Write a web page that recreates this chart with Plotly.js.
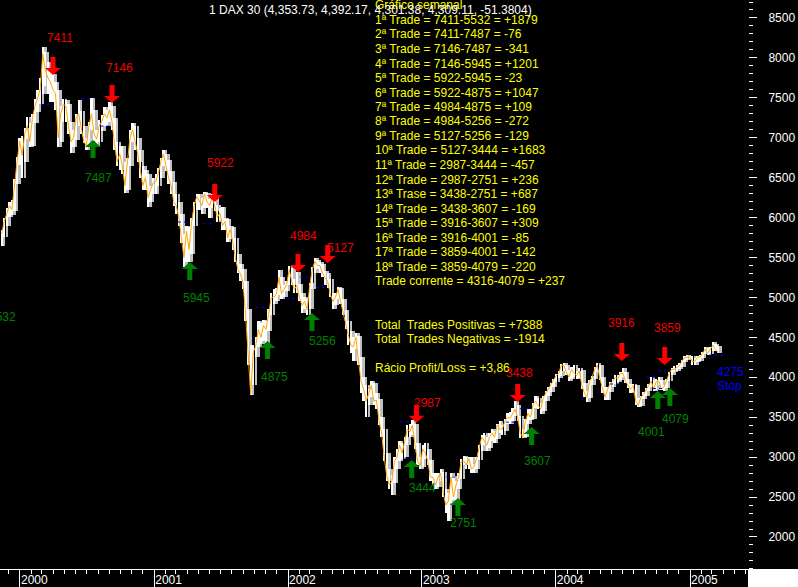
<!DOCTYPE html>
<html><head><meta charset="utf-8">
<script src="https://cdn.plot.ly/plotly-3.0.1.min.js"></script>
<style>html,body{margin:0;padding:0;background:#000;}#chart{width:798px;height:587px;}</style>
</head><body><div id="chart"></div>
<script>
// ---------- DATA ----------
const firstWeek = '1999-11-12';   // weekly bars (Fridays)
const closeVals = [
 5800,5950,6050,6150,6100,6450,6700,6958,
 6780,7050,7150,6950, 7250,7400,7500,7600, 8050,7850,7750,7700,7600, 7550,7000,7300,7414, 7400,7150,6950,7000, 7250,7300,7100,6950,6900, 7150,7300,7050,6980, 7150,7200,7300,7250, 7350,7200,6900,6700,6798, 6650,6400,6700,7000, 7100,6950,6800,6600, 6400,6500,6250,6350,6434,
 6450,6550,6700,6800, 6650,6500,6400,6200, 6150,6000,5750,5500,5830, 5600,5950,6150,6265, 6200,6150,6300,6200, 6150,6250,6150,6000,6058, 5900,5950,5750,5850, 5700,5500,5350,5300,5188, 4800,4300,3790,4308, 4400,4600,4500,4650, 4600,4800,5000,5000,5043, 5250,5050,5100,5160,
 5350,5200,5100,5150, 5000,4900,4950,4850, 5150,5350,5450,5400,5397, 5300,5250,5200,5041, 4950,5000,5100,4950,4818, 4650,4550,4400,4383, 4500,4200,3950,3850, 3700,3800,3900,3700,3713, 3450,3300,3000,2769, 2650,2700,2950,3000, 3150,3050,3200,3350,3320, 3400,3150,2950,2893,
 3100,3050,2950,2750,2748, 2650,2750,2800,2548, 2400,2450,2750,2500, 2650,2750,2950,2950, 2900,2980,2850,2880,2983, 3100,3250,3200,3150, 3250,3300,3250,3400, 3350,3350,3450,3500,3485, 3550,3600,3500,3300, 3250,3450,3550,3500,3656, 3700,3650,3600,3746, 3800,3850,3900,3950,
 4020,4050,4150,4150,4059, 4000,4100,4050,4018, 4080,3900,3800,3750, 3950,4000,4100,4150,3985, 3850,3750,3850,3921, 3950,4000,3980,4050, 4050,3950,3900,3850,3896, 3700,3650,3750,3785, 3850,3900,3950,3850, 3950,3950,3850,3880,3960, 4050,4100,4100,4126, 4150,4200,4250,4250,4256,
 4200,4200,4250,4255,4300,4350,4300,4350,4400,4353,4309
];
const highVals = [
 5850,6000,6120,6200,6220,6480,6760,7000,
 7020,7120,7260,7180, 7300,7480,7600,7750, 8137,8080,7950,7850,7800, 7700,7600,7400,7480, 7470,7420,7200,7100, 7300,7470,7330,7150,7000, 7200,7500,7350,7100, 7220,7280,7380,7350, 7450,7400,7250,6950,6900, 6900,6700,6750,7100, 7185,7150,7000,6850, 6650,6600,6550,6400,6500,
 6550,6620,6750,6850, 6800,6720,6580,6450, 6300,6200,6050,5800,5900, 5880,6000,6200,6300, 6290,6250,6320,6310, 6230,6290,6260,6160,6120, 6130,6000,5980,5900, 5880,5750,5550,5420,5350, 5200,4850,4400,4400, 4500,4700,4680,4720, 4700,4850,5050,5100,5120, 5340,5260,5150,5200,
 5400,5370,5230,5320, 5170,5050,5000,4980, 5180,5380,5500,5467,5440, 5420,5330,5300,5230, 5060,5050,5130,5120,4980, 4840,4700,4580,4500, 4550,4520,4250,4000, 3900,3850,3950,3930,3800, 3730,3500,3350,3050, 2850,2780,3000,3100, 3200,3180,3250,3400,3420, 3465,3420,3180,3000,
 3150,3180,3100,2970,2800, 2800,2800,2850,2820, 2600,2550,2800,2760, 2700,2800,2980,3020, 3000,3000,3000,2920,3000, 3150,3280,3300,3250, 3300,3350,3330,3420, 3450,3400,3480,3550,3560, 3620,3700,3650,3520, 3350,3480,3600,3600,3680, 3760,3740,3680,3770, 3830,3880,3930,3980,
 4040,4080,4170,4180,4160, 4090,4130,4150,4080, 4120,4090,3930,3830, 3970,4020,4130,4180,4160, 4000,3880,3880,3940, 3980,4030,4030,4070, 4115,4070,3980,3920,3920, 3900,3740,3770,3810, 3870,3920,4000,3960, 3980,4000,3960,3900,3980, 4070,4120,4140,4150, 4180,4220,4270,4280,4270,
 4270,4240,4270,4280,4320,4380,4370,4380,4440,4420,4392
];
const lowVals = [
 5640,5760,5900,6010,6030,6080,6420,6660,
 6500,6700,6980,6880, 6900,7180,7320,7420, 7550,7650,7550,7450,7450, 7350,6890,6950,7200, 7200,7050,6810,6880, 6970,7150,7050,6930,6850, 6880,7100,6960,6900, 6950,7080,7150,7150, 7200,7100,6850,6650,6600, 6550,6310,6350,6650, 6950,6850,6700,6500, 6350,6350,6130,6200,6300,
 6300,6400,6500,6650, 6580,6420,6300,6150, 6050,5900,5680,5380,5450, 5450,5550,5900,6100, 6100,6050,6120,6120, 6000,6120,6080,5950,5970, 5850,5850,5700,5730, 5600,5450,5300,5200,5100, 4700,4150,3780,3900, 4250,4380,4420,4450, 4430,4580,4780,4920,4950, 5030,4980,5000,5080,
 5150,5150,5050,5050, 4950,4800,4850,4780, 4850,5100,5300,5350,5300, 5250,5150,5120,5000, 4850,4900,4980,4920,4780, 4600,4400,4300,4200, 4350,4150,3800,3700, 3500,3650,3750,3650,3600, 3400,3250,2950,2700, 2600,2520,2680,2850, 2950,2980,3000,3150,3250, 3280,3100,2900,2850,
 2880,2980,2900,2700,2650, 2600,2620,2700,2500, 2300,2200,2430,2460, 2450,2600,2720,2900, 2850,2850,2800,2800,2850, 2960,3080,3150,3080, 3120,3200,3180,3230, 3300,3280,3330,3420,3420, 3450,3520,3450,3240, 3240,3250,3420,3460,3480, 3620,3600,3540,3580, 3700,3760,3820,3880,
 3940,3990,4020,4080,4030, 3950,3980,4000,3980, 3990,3850,3750,3690, 3740,3900,3980,4060,3960, 3800,3715,3720,3820, 3880,3920,3940,3970, 4000,3930,3870,3800,3820, 3650,3630,3640,3730, 3760,3830,3880,3830, 3840,3900,3840,3830,3870, 3950,4030,4060,4080, 4100,4130,4190,4220,4230,
 4160,4150,4190,4210,4240,4290,4280,4290,4330,4330,4301
];

// trade signals
const sellDates  = ['2000-03-31','2000-09-08','2001-06-15','2002-01-28','2002-04-19','2002-12-17','2003-09-19','2004-06-29','2004-10-24'];
const sellPrices = [7411,7146,5922,4984,5127,2987,3438,3916,3859];
const sellTips   = [7786,7435,6195,5318,5430,3430,3690,4204,4154];
const buyDates   = ['2000-07-18','2001-04-08','2001-11-06','2002-03-07','2002-12-04','2003-04-09','2003-10-27','2004-10-05','2004-11-07'];
const buyPrices  = [7487,5945,4875,5256,3444,2751,3607,4001,4079];
const buyTips    = [6972,5444,4455,4805,2963,2488,3377,3828,3865];
const firstBuyLabel = 5532;
const stopLevel = 4275;
const stopFrom = '2005-02-21', stopTo = '2005-04-01';

const titleText = '1 DAX 30 (4,353.73, 4,392.17, 4,301.38, 4,309.11, -51.3804)';
const infoLines = [
 'Gráfico semanal',
 '1ª Trade = 7411-5532 = +1879',
 '2ª Trade = 7411-7487 = -76',
 '3ª Trade = 7146-7487 = -341',
 '4ª Trade = 7146-5945 = +1201',
 '5ª Trade = 5922-5945 = -23',
 '6ª Trade = 5922-4875 = +1047',
 '7ª Trade = 4984-4875 = +109',
 '8ª Trade = 4984-5256 = -272',
 '9ª Trade = 5127-5256 = -129',
 '10ª Trade = 5127-3444 = +1683',
 '11ª Trade = 2987-3444 = -457',
 '12ª Trade = 2987-2751 = +236',
 '13ª Trase = 3438-2751 = +687',
 '14ª Trade = 3438-3607 = -169',
 '15ª Trade = 3916-3607 = +309',
 '16ª Trade = 3916-4001 = -85',
 '17ª Trade = 3859-4001 = -142',
 '18ª Trade = 3859-4079 = -220',
 'Trade corrente = 4316-4079 = +237',
 '', '',
 'Total  Trades Positivas = +7388',
 'Total  Trades Negativas = -1914',
 '',
 'Rácio Profit/Loss = +3,86'
];

// ---------- STYLE / LAYOUT ----------
const W = 798, H = 587, MR = 50, MB = 18;
const PW = W - MR, PH = H - MB;
const FONT = 'Liberation Sans, Arial, sans-serif';
const DAY = 86400000;
const sellLabelOff = [[7,-37],[7,-35],[6,-39],[6,-36],[13,-15],[11,-20],[2,-29],[0,-38],[3,-37]];
const buyLabelOff  = [[6,38],[7,36],[7,36],[11,28],[11,28],[6,25],[6,34],[-6,41],[6,31]];

const t0 = Date.parse(firstWeek + 'T00:00:00Z');
const iso = ms => new Date(ms).toISOString().slice(0,10);
const weeks = closeVals.map((_, i) => iso(t0 + i*7*DAY));
const weeksLag = closeVals.map((_, i) => iso(t0 + (i+1)*7*DAY));
const spans = highVals.map((h, i) => h - lowVals[i]);

const traces = [
 {type:'bar', x:weeksLag, base:lowVals, y:spans, width:7*DAY*0.95,
  marker:{color:'#C0C0C0', line:{width:0}}, hoverinfo:'skip'},
 {type:'bar', x:weeks, base:lowVals, y:spans, width:7*DAY*0.9,
  marker:{color:'#FFFFFF', line:{width:0}}, hoverinfo:'skip'},
 {type:'scatter', mode:'lines', x:weeks, y:closeVals,
  line:{color:'#FFA500', width:1}, hoverinfo:'skip'}
];

const downArrow = 'M -2.5 18 L 2.5 18 L 2.5 7 L 8 7 L 0 0 L -8 7 L -2.5 7 Z';
const upArrow   = 'M -2.5 -18 L 2.5 -18 L 2.5 -7 L 8 -7 L 0 0 L -8 -7 L -2.5 -7 Z';
const shapes = [];
const annotations = [];
const dashLine = (d, lvl) => ({type:'line', xref:'x', yref:'y',
  x0: iso(Date.parse(d) - 32*DAY), x1: iso(Date.parse(d) - 2*DAY), y0:lvl, y1:lvl,
  line:{color:'#0000FF', width:1, dash:'3px,3px'}, layer:'above'});

sellDates.forEach((d, i) => {
  shapes.push(dashLine(d, sellPrices[i]));
  shapes.push({type:'path', xref:'x', yref:'y', xsizemode:'pixel', ysizemode:'pixel',
    xanchor:d, yanchor:sellTips[i], path:downArrow, fillcolor:'#FF0000',
    line:{color:'rgba(0,0,0,0)', width:0}, layer:'above'});
});
buyDates.forEach((d, i) => {
  shapes.push(dashLine(d, buyPrices[i]));
  shapes.push({type:'path', xref:'x', yref:'y', xsizemode:'pixel', ysizemode:'pixel',
    xanchor:d, yanchor:buyTips[i], path:upArrow, fillcolor:'#008000',
    line:{color:'rgba(0,0,0,0)', width:0}, layer:'above'});
});
shapes.push({type:'line', xref:'x', yref:'y', x0:stopFrom, x1:stopTo, y0:stopLevel, y1:stopLevel,
  line:{color:'#0000FF', width:1, dash:'3px,3px'}, layer:'above'});
// white corner under the price scale
shapes.push({type:'rect', xref:'paper', yref:'paper', x0:1, x1:W/PW, y0:-MB/PH, y1:0,
  fillcolor:'#FFFFFF', line:{width:0}, layer:'above'});

const py = p => 1 - p/PH;
infoLines.forEach((t, k) => {
  if (!t) return;
  annotations.push({xref:'paper', yref:'paper', x:373/PW, y:py(5.5 + 14.5*k),
    xanchor:'left', yanchor:'middle', showarrow:false, text:t,
    font:{family:FONT, size:12, color:'#FFFF00'}});
});
annotations.push({xref:'paper', yref:'paper', x:207/PW, y:py(10), xanchor:'left', yanchor:'middle',
  showarrow:false, text:titleText, font:{family:FONT, size:12, color:'#FFFFFF'}});

sellDates.forEach((d, i) => annotations.push({xref:'x', yref:'y', x:d, y:sellTips[i],
  xshift:sellLabelOff[i][0], yshift:-sellLabelOff[i][1], showarrow:false,
  text:String(sellPrices[i]), font:{family:FONT, size:12, color:'#F00000'}}));
buyDates.forEach((d, i) => annotations.push({xref:'x', yref:'y', x:d, y:buyTips[i],
  xshift:buyLabelOff[i][0], yshift:-buyLabelOff[i][1], showarrow:false,
  text:String(buyPrices[i]), font:{family:FONT, size:12, color:'#008000'}}));
annotations.push({xref:'paper', yref:'paper', x:0, y:py(317), xanchor:'center', yanchor:'middle',
  xshift:2, showarrow:false,
  text:String(firstBuyLabel), font:{family:FONT, size:12, color:'#008000'}});
annotations.push({xref:'x', yref:'y', x:'2005-03-20', y:stopLevel, yshift:-17, xshift:12, showarrow:false,
  text:String(stopLevel), font:{family:FONT, size:12, color:'#0000FF'}});
annotations.push({xref:'x', yref:'y', x:'2005-03-20', y:stopLevel, yshift:-31, xshift:11, showarrow:false,
  text:'Stop', font:{family:FONT, size:12, color:'#0000FF'}});

const layout = {
  width:W, height:H, margin:{l:0, r:MR, t:0, b:MB, pad:0},
  paper_bgcolor:'#000000', plot_bgcolor:'#000000', showlegend:false,
  barmode:'overlay', bargap:0,
  font:{family:FONT, size:12, color:'#FFFFFF'},
  xaxis:{type:'date', range:['1999-11-07 12:00','2005-06-08'], showgrid:false, zeroline:false,
    showline:true, linecolor:'#FFFFFF', linewidth:1,
    ticks:'outside', ticklen:18, tickcolor:'#FFFFFF', tickwidth:1,
    tick0:'2000-01-01', dtick:'M12', tickformat:'%Y',
    ticklabelposition:'outside right', ticklabelstandoff:0,
    minor:{ticks:'outside', ticklen:4, tickcolor:'#FFFFFF', dtick:'M1', tick0:'2000-01-01', showgrid:false},
    tickfont:{family:FONT, size:12, color:'#FFFFFF'}, fixedrange:true},
  yaxis:{side:'right', range:[1599, 8725], showgrid:false, zeroline:false, showline:false,
    ticks:'outside', ticklen:8, tickcolor:'#FFFFFF', tickwidth:1, tick0:0, dtick:500,
    minor:{ticks:'outside', ticklen:4, dtick:100, tickcolor:'#FFFFFF', showgrid:false},
    ticklabelstandoff:9, tickfont:{family:FONT, size:12, color:'#FFFFFF'}, fixedrange:true},
  shapes:shapes, annotations:annotations
};
Plotly.newPlot('chart', traces, layout, {staticPlot:true, displayModeBar:false});
</script></body></html>
